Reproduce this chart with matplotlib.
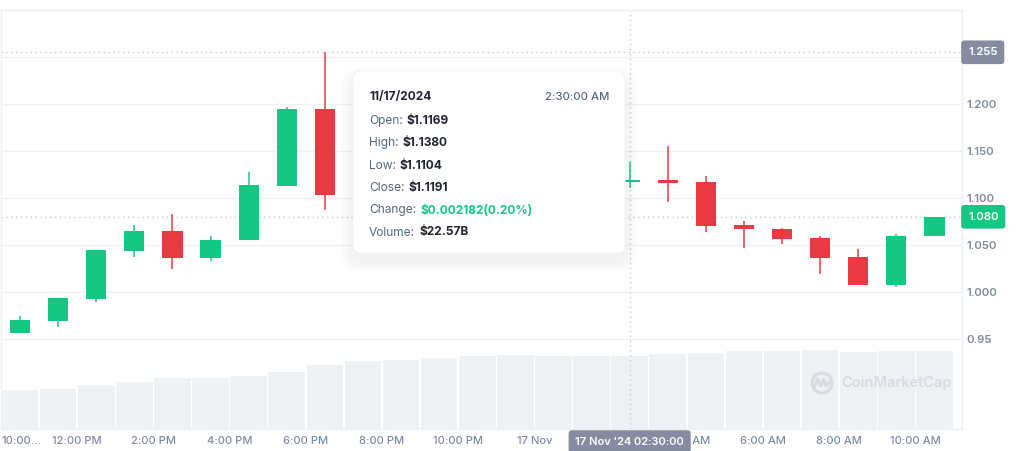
import matplotlib
matplotlib.use("Agg")
import matplotlib.pyplot as plt
from matplotlib.patches import FancyBboxPatch, Circle

plt.rcParams['font.family'] = ['Inter', 'DejaVu Sans']

# hourly candles, 10:30 AM 16 Nov -> 10:30 AM 17 Nov (hours since 10:00 AM)
hours = [i + 0.5 for i in range(25)]
open_ = [0.9567, 0.9695, 0.9922, 1.0436, 1.0652, 1.0365, 1.0550, 1.1128, 1.1944, 1.1035,
         1.1240, 1.1190, 1.1120, 1.1080, 1.1150, 1.1210, 1.1169, 1.1191, 1.1167, 1.0713,
         1.0670, 1.0571, 1.0372, 1.0074, 1.0600]
high = [0.9745, 0.9935, 1.0447, 1.0713, 1.0830, 1.0599, 1.1277, 1.1965, 1.2550, 1.1320,
        1.1420, 1.1300, 1.1250, 1.1200, 1.1280, 1.1260, 1.1380, 1.1553, 1.1234, 1.0755,
        1.0684, 1.0599, 1.0457, 1.0617, 1.0800]
low = [0.9562, 0.9631, 0.9897, 1.0376, 1.0248, 1.0333, 1.0550, 1.1128, 1.0869, 1.0950,
       1.1150, 1.1050, 1.1020, 1.0990, 1.1100, 1.1130, 1.1104, 1.0954, 1.0642, 1.0465,
       1.0507, 1.0188, 1.0074, 1.0056, 1.0600]
close = [0.9702, 0.9933, 1.0447, 1.0652, 1.0365, 1.0556, 1.1135, 1.1944, 1.1035, 1.1240,
         1.1190, 1.1120, 1.1080, 1.1150, 1.1210, 1.1169, 1.1191, 1.1156, 1.0705, 1.0667,
         1.0561, 1.0365, 1.0074, 1.0599, 1.0800]
# 24h volume, billions USD
volume = [12.06, 12.37, 13.60, 14.53, 15.77, 15.77, 16.39, 17.62, 19.79, 21.02,
          21.33, 21.95, 22.57, 22.88, 22.57, 22.57, 22.57, 23.19, 23.50, 24.12,
          24.12, 24.43, 23.81, 24.12, 24.12]

xtick_pos = list(range(0, 25, 2))
# 2:00 AM sits fully under the crosshair label, so it is left blank
xtick_labels = ['10:00...', '12:00 PM', '2:00 PM', '4:00 PM', '6:00 PM', '8:00 PM', '10:00 PM',
                '17 Nov', '', '4:00 AM', '6:00 AM', '8:00 AM', '10:00 AM']
ytick_pos = [0.95, 1.00, 1.05, 1.10, 1.15, 1.20, 1.25]
ytick_labels = ['0.95', '1.000', '1.050', '1.100', '1.150', '1.200', '']

hover = 16
hover_label = "17 Nov '24 02:30:00"
tip_date = '11/17/2024'
tip_time = '2:30:00 AM'
tip_names = ['Open:', 'High:', 'Low:', 'Close:', 'Change:', 'Volume:']
tip_values = ['$1.1169', '$1.1380', '$1.1104', '$1.1191', '$0.002182(0.20%)', '$22.57B']

GREEN = '#16c784'
RED = '#ea3943'
GREY = '#808a9d'
GRID = '#eff2f5'
DOTS = '#c3c8d2'

fig = plt.figure(figsize=(10.24, 4.51), dpi=100)
rect = [1 / 1024, 22 / 451, 961 / 1024, 419.5 / 451]
axv = fig.add_axes(rect)
ax = fig.add_axes(rect, sharex=axv)
ax.patch.set_visible(False)

# volume bars underneath
axv.bar(hours, volume, width=0.96, color=GRID, linewidth=0)
axv.set_ylim(0, 129.7)
axv.axis('off')

# candles
for x, o, h, l, c in zip(hours, open_, high, low, close):
    col = GREEN if c >= o else RED
    ax.vlines(x, l, h, color=col, lw=1.1, zorder=3)
    ax.bar(x, max(abs(c - o), 0.0025), bottom=min(o, c), width=0.53, color=col,
           linewidth=0, zorder=3)

ax.set_xlim(0, 961 / 38.1)
ax.set_ylim(0.8543, 1.3005)
ax.set_axisbelow(True)
ax.grid(axis='y', color=GRID, lw=1)

ax.yaxis.tick_right()
ax.set_yticks(ytick_pos)
ax.set_yticklabels(ytick_labels, fontweight='semibold')
ax.tick_params(axis='y', length=0, pad=3.4, labelsize=8.2, labelcolor=GREY)
ax.set_xticks(xtick_pos)
ax.set_xticklabels(xtick_labels, fontweight='medium')
ax.tick_params(axis='x', length=0, pad=5.2, labelsize=8, labelcolor=GREY)
ax.get_xticklabels()[0].set_horizontalalignment('left')
for s in ax.spines.values():
    s.set_color('#eceff3')
    s.set_linewidth(1)

# crosshair and price markers
ax.axhline(max(high), color=DOTS, ls=(0, (1, 2.5)), lw=1, zorder=2)
ax.axhline(close[-1], color=DOTS, ls=(0, (1, 2.5)), lw=1, zorder=2)
ax.axvline(hours[hover], color=DOTS, ls=(0, (1, 2.5)), lw=1, zorder=2)

ax.annotate(f'{max(high):.3f}', xy=(1, max(high)), xycoords=('axes fraction', 'data'),
            xytext=(4.3, 0), textcoords='offset points', ha='left', va='center',
            fontsize=8.2, fontweight='semibold', color='white', annotation_clip=False, zorder=10,
            bbox=dict(boxstyle='round,pad=0.6,rounding_size=0.3', fc='#858ca2', ec='none'))
ax.annotate(f'{close[-1]:.3f}', xy=(1, close[-1]), xycoords=('axes fraction', 'data'),
            xytext=(4.3, 0), textcoords='offset points', ha='left', va='center',
            fontsize=8.2, fontweight='semibold', color='white', annotation_clip=False, zorder=10,
            bbox=dict(boxstyle='round,pad=0.6,rounding_size=0.3', fc=GREEN, ec='none'))
ax.annotate(hover_label, xy=(hours[hover], 0), xycoords=('data', 'axes fraction'),
            xytext=(0, -9.3), textcoords='offset points', ha='center', va='center',
            fontsize=8, fontweight='semibold', color='white', annotation_clip=False, zorder=10,
            bbox=dict(boxstyle='round,pad=0.6,rounding_size=0.3', fc='#858ca2', ec='none'))

# overlay in pixel units: tooltip + watermark
ov = fig.add_axes([0, 0, 1, 1])
ov.set_xlim(0, 1024)
ov.set_ylim(451, 0)
ov.axis('off')

for k in range(6):
    g = 12 - 2 * k
    ov.add_patch(FancyBboxPatch((353 - g, 71 - g + 8), 272 + 2 * g, 182 + 2 * g,
                                boxstyle='round,pad=0,rounding_size=%d' % (8 + g),
                                fc='#58667e', ec='none', alpha=0.012))
ov.add_patch(FancyBboxPatch((353, 71), 272, 182, boxstyle='round,pad=0,rounding_size=8',
                            fc='white', ec='#f1f2f4', lw=0.6))
ov.text(369, 97, tip_date, fontsize=8.6, fontweight='bold', color='#222531', va='center')
ov.text(609, 97, tip_time, fontsize=8.2, fontweight='medium', color='#58667e',
        va='center', ha='right')

renderer = fig.canvas.get_renderer()
for k, (name, val) in enumerate(zip(tip_names, tip_values)):
    y = 121 + 22.3 * k
    t = ov.text(369, y, name, fontsize=8.6, color='#58667e', va='center')
    bb = t.get_window_extent(renderer)
    x_end = ov.transData.inverted().transform((bb.x1, bb.y0))[0]
    ov.text(x_end + 4, y, val, fontsize=8.6, fontweight='bold', va='center',
            color=GREEN if name == 'Change:' else '#222531')

WM = '#d6dbe4'
ov.add_patch(Circle((822, 383), 10, fill=False, ec=WM, lw=2.2))
ov.plot([814, 817.5, 821, 823.5, 826, 829.5], [388, 379, 386, 379, 386, 382], color=WM, lw=2.2,
        solid_joinstyle='round', solid_capstyle='round')
ov.text(841, 383, 'CoinMarketCap', fontsize=10.5, fontweight='semibold', color=WM, va='center')

fig.savefig('out.png', dpi=100)
